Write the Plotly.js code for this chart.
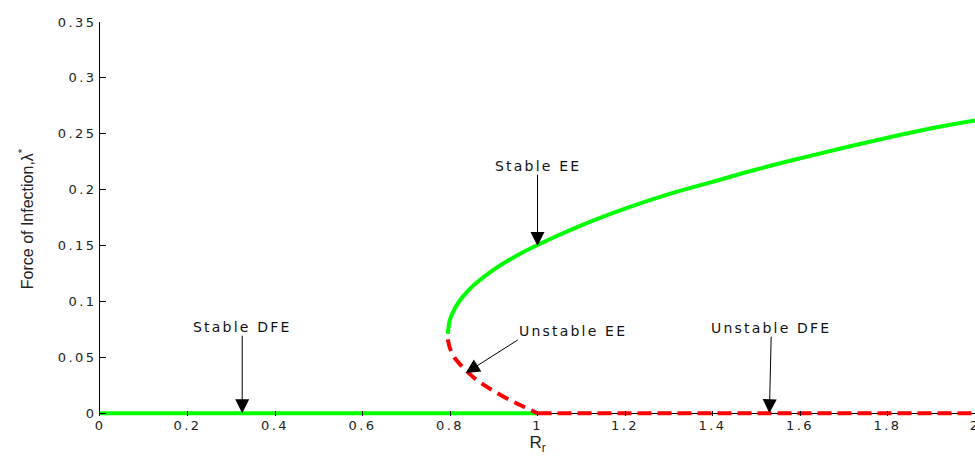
<!DOCTYPE html>
<html>
<head>
<meta charset="utf-8">
<script src="https://cdn.plot.ly/plotly-3.0.1.min.js"></script>
<style>
html,body{margin:0;padding:0;background:#fff;}
#chart{width:975px;height:458px;}
.xtick text,.ytick text{letter-spacing:2.4px;}
.annotation-text{letter-spacing:2.2px;}
</style>
</head>
<body>
<div id="chart"></div>
<script>
// Disease-free equilibrium branches
const dfeStableR = [0, 1.0];
const dfeStableL = [0, 0];
const dfeUnstableR = [1.0, 2.0];
const dfeUnstableL = [0, 0];
// Endemic equilibrium, stable (upper) branch
const eeStableR = [0.795, 0.80, 0.81, 0.82, 0.84, 0.86, 0.90, 0.95, 1.0, 1.1, 1.2, 1.3, 1.4, 1.5, 1.6, 1.7, 1.8, 1.9, 2.0];
const eeStableL = [0.071, 0.084, 0.093, 0.0995, 0.109, 0.1164, 0.1284, 0.1405, 0.1505, 0.168, 0.183, 0.196, 0.207, 0.218, 0.228, 0.2375, 0.2465, 0.255, 0.262];
// Endemic equilibrium, unstable (lower) branch
const eeUnstableR = [0.795, 0.80, 0.81, 0.82, 0.84, 0.86, 0.88, 0.90, 0.93, 0.96, 1.0];
const eeUnstableL = [0.066, 0.058, 0.050, 0.045, 0.037, 0.030, 0.0247, 0.0198, 0.0132, 0.0073, 0];
// Ticks
const xTicks = [0, 0.2, 0.4, 0.6, 0.8, 1, 1.2, 1.4, 1.6, 1.8, 2];
const xTickText = ["0", "0.2", "0.4", "0.6", "0.8", "1", "1.2", "1.4", "1.6", "1.8", "2"];
const yTicks = [0, 0.05, 0.1, 0.15, 0.2, 0.25, 0.3, 0.35];
const yTickText = ["0", "0.05", "0.1", "0.15", "0.2", "0.25", "0.3", "0.35"];
// Annotations: arrow heads and labels
const labelText = ["Stable DFE", "Stable EE", "Unstable DFE", "Unstable EE"];
const headR = [0.325, 1.0, 1.53, 0.836];
const headL = [0, 0.1495, 0, 0.036];

const GREEN = '#00ff00', RED = '#ff0000';
const traces = [
  {x: dfeStableR, y: dfeStableL, mode: 'lines', line: {color: GREEN, width: 4}, hoverinfo: 'skip'},
  {x: dfeUnstableR, y: dfeUnstableL, mode: 'lines', line: {color: RED, width: 4, dash: '14px,6px'}, hoverinfo: 'skip'},
  {x: eeStableR, y: eeStableL, mode: 'lines', line: {color: GREEN, width: 4, shape: 'spline'}, hoverinfo: 'skip'},
  {x: eeUnstableR, y: eeUnstableL, mode: 'lines', line: {color: RED, width: 4, dash: '12px,7px', shape: 'spline'}, hoverinfo: 'skip'}
];

// label position relative to arrow head (pixels) and anchoring
const tailOffsets = [[0, -86], [0, -80], [2, -85], [52, -33]];
const anchors = [['center', 'middle'], ['center', 'middle'], ['center', 'middle'], ['left', 'bottom']];
const annotations = [];
for (let i = 0; i < labelText.length; i++) {
  annotations.push({
    x: headR[i], y: headL[i], xref: 'x', yref: 'y', text: labelText[i],
    showarrow: true, arrowhead: 2, arrowsize: 2.8, arrowwidth: 1, arrowcolor: '#000',
    ax: tailOffsets[i][0], ay: tailOffsets[i][1], standoff: 0,
    xanchor: anchors[i][0], yanchor: anchors[i][1],
    borderpad: 0, font: {family: 'DejaVu Sans', size: 14, color: '#111'}
  });
}

const layout = {
  width: 975, height: 458,
  margin: {l: 100, r: 0, t: 22, b: 42},
  paper_bgcolor: '#fff', plot_bgcolor: '#fff',
  showlegend: false,
  xaxis: {
    range: [0, 2], tickvals: xTicks, ticktext: xTickText,
    ticks: 'inside', ticklen: 5, tickcolor: '#000',
    showline: false, showgrid: false, zeroline: false,
    ticklabeloverflow: 'allow',
    tickfont: {family: 'DejaVu Sans', size: 13, color: '#222'},
    title: {text: 'R<sub>r</sub>', font: {family: 'Liberation Sans', size: 17, color: '#222'}, standoff: 4}
  },
  yaxis: {
    range: [-0.0025, 0.35], tickvals: yTicks, ticktext: yTickText,
    ticks: 'inside', ticklen: 6, tickcolor: '#000',
    showline: true, linecolor: '#000', linewidth: 1, showgrid: false,
    zeroline: true, zerolinecolor: '#000', zerolinewidth: 1,
    tickfont: {family: 'DejaVu Sans', size: 13, color: '#222'},
    title: {text: 'Force of Infection,λ<sup>*</sup>', font: {family: 'Liberation Sans', size: 16, color: '#222'}, standoff: 20}
  },
  annotations: annotations
};

Plotly.newPlot('chart', traces, layout, {staticPlot: true, displayModeBar: false});
</script>
</body>
</html>
